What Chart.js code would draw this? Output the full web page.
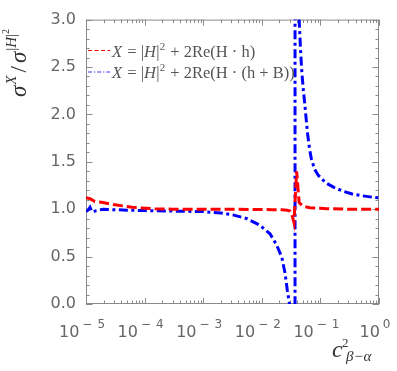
<!DOCTYPE html>
<html><head><meta charset="utf-8">
<script src="https://cdn.jsdelivr.net/npm/chart.js@4/dist/chart.umd.min.js"></script>
<style>html,body{margin:0;padding:0;background:#fff;}canvas{display:block;}</style>
</head><body>
<canvas id="c" width="397" height="371"></canvas>
<script>
// ---- data ----
const redX = [1.0e-5, 1.17e-5, 1.42e-5, 1.95e-5, 2.9e-5, 4.2e-5, 6.1e-5, 1.06e-4, 1.5e-4, 3e-4, 1e-3, 3e-3, 8e-3, 0.015, 0.022, 0.027, 0.0303, 0.033, 0.0354, 0.0393, 0.0434, 0.0505, 0.0665, 0.1, 0.13, 0.3, 1.0];
const redY = [1.12, 1.11, 1.08, 1.07, 1.05, 1.035, 1.02, 1.01, 1.005, 1.0, 1.0, 1.0, 0.997, 0.995, 0.993, 0.99, 0.98, 0.93, 0.86, 1.40, 1.07, 1.03, 1.015, 1.01, 1.005, 1.0, 1.0];

const blueX = [1.0e-5, 1.08e-5, 1.17e-5, 1.25e-5, 1.32e-5, 1.5e-5, 1.95e-5, 2.9e-5, 5e-5, 1e-4, 3e-4, 1e-3, 2e-3, 3.2e-3, 5.6e-3, 9.3e-3, 0.0138, 0.018, 0.022, 0.025, 0.0273, 0.0295, 0.032, 0.0355, 0.0368, 0.0370, 0.0399, 0.0434, 0.0458, 0.0483, 0.0513, 0.0543, 0.0603, 0.0655, 0.0707, 0.080, 0.0913, 0.110, 0.130, 0.170, 0.243, 0.350, 0.474, 0.700, 1.0];
const blueY = [0.975, 0.99, 1.02, 0.98, 0.97, 0.985, 1.0, 0.995, 0.99, 0.985, 0.98, 0.975, 0.96, 0.94, 0.90, 0.83, 0.74, 0.62, 0.49, 0.32, 0.14, 0.01, -0.4, -3, -50, 50, 5, 3.0, 2.68, 2.44, 2.25, 2.10, 1.80, 1.63, 1.52, 1.42, 1.36, 1.31, 1.27, 1.23, 1.19, 1.16, 1.145, 1.13, 1.12];

const xTickValues = [1e-5, 1e-4, 1e-3, 1e-2, 1e-1, 1];
const xTickExponents = ['\u22125', '\u22124', '\u22123', '\u22122', '\u22121', '0'];
const yTickStep = 0.5;
const seriesNames = ['X = |H|\u00b2 + 2Re(H \u00b7 h)', 'X = |H|\u00b2 + 2Re(H \u00b7 (h + B))'];

const SERIF = '"Liberation Serif","DejaVu Serif",serif';
const SANS = '"DejaVu Sans",sans-serif';

function drawRich(ctx, segs, x, y) {
  for (const s of segs) {
    ctx.font = s.f;
    ctx.fillText(s.t, x, y - (s.dy || 0));
    x += ctx.measureText(s.t).width + (s.sp || 0);
  }
  return x;
}

const it = (n) => 'italic ' + n + 'px ' + SERIF;
const rm = (n) => n + 'px ' + SERIF;

const LF = 16.5;
const legendSegs = [
  [{t:'X', f:it(LF), sp:1}, {t:' = |', f:rm(LF)}, {t:'H', f:it(LF), sp:0.5}, {t:'|', f:rm(LF)}, {t:'2', f:rm(11), dy:7, sp:1}, {t:' + 2Re(H \u00b7 h)', f:rm(LF)}],
  [{t:'X', f:it(LF), sp:1}, {t:' = |', f:rm(LF)}, {t:'H', f:it(LF), sp:0.5}, {t:'|', f:rm(LF)}, {t:'2', f:rm(11), dy:7, sp:1}, {t:' + 2Re(H \u00b7 (h + B))', f:rm(LF)}]
];

const decor = {
  id: 'decor',
  beforeDatasetsDraw(chart) {
    const ctx = chart.ctx, a = chart.chartArea;
    const xs = chart.scales.x, ys = chart.scales.y;
    ctx.save();
    ctx.strokeStyle = '#8a8a8a';
    ctx.lineWidth = 1;
    ctx.strokeRect(a.left + 0.5, a.top + 0.5, a.right - a.left - 1, a.bottom - a.top - 1);
    ctx.beginPath();
    for (let d = -5; d <= 0; d++) {
      for (let k = 1; k <= 9; k++) {
        const v = k * Math.pow(10, d);
        if (v > 1.0000001) break;
        const px = Math.round(xs.getPixelForValue(v)) + 0.5;
        const len = k === 1 ? 6 : 3.5;
        ctx.moveTo(px, a.bottom); ctx.lineTo(px, a.bottom - len);
        ctx.moveTo(px, a.top); ctx.lineTo(px, a.top + len);
      }
    }
    for (let i = 0; i <= 30; i++) {
      const v = i / 10;
      const py = Math.round(ys.getPixelForValue(v)) + 0.5;
      const len = i % 5 === 0 ? 6.5 : 3.5;
      ctx.moveTo(a.left, py); ctx.lineTo(a.left + len, py);
      ctx.moveTo(a.right, py); ctx.lineTo(a.right - len, py);
    }
    ctx.stroke();
    ctx.restore();
  },
  afterDraw(chart) {
    const ctx = chart.ctx;
    const xs = chart.scales.x;
    ctx.save();
    ctx.fillStyle = '#666';
    ctx.textBaseline = 'alphabetic';
    ctx.textAlign = 'left';
    xTickValues.forEach((v, i) => {
      const px = xs.getPixelForValue(v);
      const exp = xTickExponents[i];
      ctx.font = '16px ' + SANS;
      const w10 = ctx.measureText('10').width;
      ctx.font = '12px ' + SANS;
      const parts = exp[0] === '\u2212' ? [exp[0], exp.slice(1)] : [exp];
      const wParts = parts.map(p => ctx.measureText(p).width);
      const gap = parts.length > 1 ? 5 : 0;
      const total = w10 + 3 + wParts.reduce((s, w) => s + w, 0) + gap;
      const x0 = px - 4 - total / 2;
      ctx.font = '16px ' + SANS;
      ctx.fillText('10', x0, 336.5);
      let xx = x0 + w10 + 3;
      ctx.font = '12px ' + SANS;
      parts.forEach((p, j) => {
        ctx.fillText(p, xx, 328);
        xx += wParts[j] + (j === 0 && parts.length > 1 ? gap : 0);
      });
    });

    // legend
    const legendY = [50.5, 72];
    const baseY = [56.5, 78];
    ctx.lineWidth = 1.2;
    ctx.strokeStyle = '#ff0000';
    ctx.setLineDash([4, 2.5]);
    ctx.beginPath(); ctx.moveTo(88, legendY[0]); ctx.lineTo(110, legendY[0]); ctx.stroke();
    ctx.strokeStyle = '#3333ff';
    ctx.setLineDash([4, 2, 1.2, 2]);
    ctx.beginPath(); ctx.moveTo(88, legendY[1]); ctx.lineTo(110, legendY[1]); ctx.stroke();
    ctx.setLineDash([]);
    ctx.fillStyle = '#555';
    legendSegs.forEach((segs, i) => drawRich(ctx, segs, 112, baseY[i]));

    // y title
    ctx.fillStyle = '#333';
    ctx.save();
    ctx.translate(26, 97);
    ctx.rotate(-Math.PI / 2);
    drawRich(ctx, [
      {t:'\u03c3', f:it(23), sp:1},
      {t:'X', f:it(15), dy:10, sp:3},
      {t:'/', f:rm(23), sp:3},
      {t:'\u03c3', f:it(23), sp:1},
      {t:'|', f:rm(15), dy:10},
      {t:'H', f:it(15), dy:10},
      {t:'|', f:rm(15), dy:10},
      {t:'2', f:rm(10), dy:17}
    ], 0, 0);
    ctx.restore();

    // x title
    drawRich(ctx, [{t:'c', f:it(24)}], 332, 357);
    drawRich(ctx, [{t:'2', f:rm(13)}], 342, 347);
    drawRich(ctx, [{t:'\u03b2\u2212\u03b1', f:it(15)}], 346, 361);
    ctx.restore();
  }
};

new Chart(document.getElementById('c').getContext('2d'), {
  type: 'line',
  data: {
    datasets: [
      {
        label: seriesNames[0],
        data: redX.map((x, i) => ({x: x, y: redY[i]})),
        borderColor: '#ff0000', borderWidth: 3, borderDash: [10, 4],
        pointRadius: 0, tension: 0, fill: false
      },
      {
        label: seriesNames[1],
        data: blueX.map((x, i) => ({x: x, y: blueY[i]})),
        borderColor: '#0000ff', borderWidth: 3, borderDash: [9, 3.5, 3, 3.5],
        pointRadius: 0, tension: 0, fill: false
      }
    ]
  },
  options: {
    responsive: false, animation: false, devicePixelRatio: 1,
    layout: {padding: {top: 12, right: 18, left: 0, bottom: 0}},
    plugins: {legend: {display: false}, tooltip: {enabled: false}},
    scales: {
      x: {
        type: 'logarithmic', min: 1e-5, max: 1,
        grid: {display: false, drawTicks: false}, border: {display: false},
        ticks: {display: false},
        afterFit(s) { s.height = 67; }
      },
      y: {
        type: 'linear', min: 0, max: 3,
        grid: {display: false, drawTicks: false}, border: {display: false},
        ticks: {stepSize: yTickStep, callback: v => v.toFixed(1), font: {family: SANS, size: 16}, color: '#666', padding: 10},
        afterFit(s) { s.width = 86; }
      }
    }
  },
  plugins: [decor]
});
</script>
</body></html>
